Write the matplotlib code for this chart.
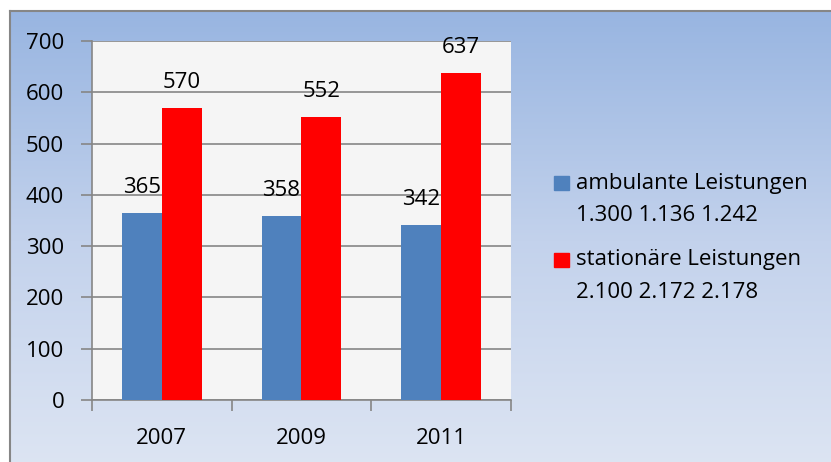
import numpy as np
import matplotlib
matplotlib.use("Agg")
import matplotlib.pyplot as plt
from matplotlib.colors import LinearSegmentedColormap
from matplotlib.patches import Rectangle

plt.rcParams['font.family'] = ['Open Sans', 'DejaVu Sans']

# data
years = ["2007", "2009", "2011"]
ambulant = [365, 358, 342]
stationaer = [570, 552, 637]
legend_names = ["ambulante Leistungen", "stationäre Leistungen"]
legend_extra = ["1.300 1.136 1.242", "2.100 2.172 2.178"]

blue = "#4F81BD"
red = "#FF0000"
grid_col = "#868686"
fs = 16

fig = plt.figure(figsize=(8.31, 4.62), dpi=100)
W, H = 831, 462

# gradient background, border only visible at top and left
bg = fig.add_axes([10 / W, -0.02, 1.0, 1.02 - 11 / H])
cmap = LinearSegmentedColormap.from_list("bg", ["#98B5E1", "#C3D2EC", "#DDE5F3"])
grad = np.linspace(0, 1, 256).reshape(-1, 1)
bg.imshow(grad, aspect="auto", cmap=cmap, extent=[0, 1, 0, 1], origin="upper")
bg.set_xticks([])
bg.set_yticks([])
for s in bg.spines.values():
    s.set_color(grid_col)
    s.set_linewidth(1.5)
bg.set_zorder(0)

# plot area
ax = fig.add_axes([92 / W, 1 - 400 / H, (511 - 92) / W, (400 - 41) / H])
ax.set_zorder(1)
ax.set_facecolor("#F5F5F5")

x = np.arange(len(years))
w = 0.286
b1 = ax.bar(x - w / 2, ambulant, w, color=blue, zorder=3)
b2 = ax.bar(x + w / 2, stationaer, w, color=red, zorder=3)

for bars in (b1, b2):
    for rect in bars:
        h = rect.get_height()
        ax.annotate(str(int(h)), (rect.get_x() + rect.get_width() / 2, h),
                    xytext=(0, 15), textcoords="offset pixels",
                    ha="center", va="bottom", fontsize=fs, zorder=4)

ax.set_xlim(-0.5, 2.5)
ax.set_ylim(0, 700)
ax.set_yticks(range(0, 701, 100))
ax.yaxis.grid(True, color=grid_col, linewidth=1.2, zorder=0)
ax.set_axisbelow(True)

ax.set_xticks(x)
ax.set_xticklabels(years, fontsize=fs)
ax.tick_params(axis="x", length=0, pad=20)
ax.set_xticks([-0.5, 0.5, 1.5, 2.5], minor=True)
ax.tick_params(axis="x", which="minor", length=8, color=grid_col, width=1.2)
ax.tick_params(axis="y", length=8, color=grid_col, width=1.2, labelsize=fs, pad=12)

for side in ("top", "right"):
    ax.spines[side].set_visible(False)
for side in ("left", "bottom"):
    ax.spines[side].set_color(grid_col)
    ax.spines[side].set_linewidth(1.2)

# legend drawn by hand so the square sits next to the first line
for i, (name, extra, col) in enumerate(zip(legend_names, legend_extra, [blue, red])):
    y1 = 183 + i * 77
    fig.patches.append(Rectangle((554 / W, 1 - (y1 + 7) / H), 15 / W, 14 / H,
                                 transform=fig.transFigure, color=col, zorder=5))
    fig.text(576 / W, 1 - y1 / H, name, fontsize=fs, va="center", ha="left")
    fig.text(576 / W, 1 - (y1 + 33) / H, extra, fontsize=fs, va="center", ha="left")

fig.savefig("out.png", dpi=100)
